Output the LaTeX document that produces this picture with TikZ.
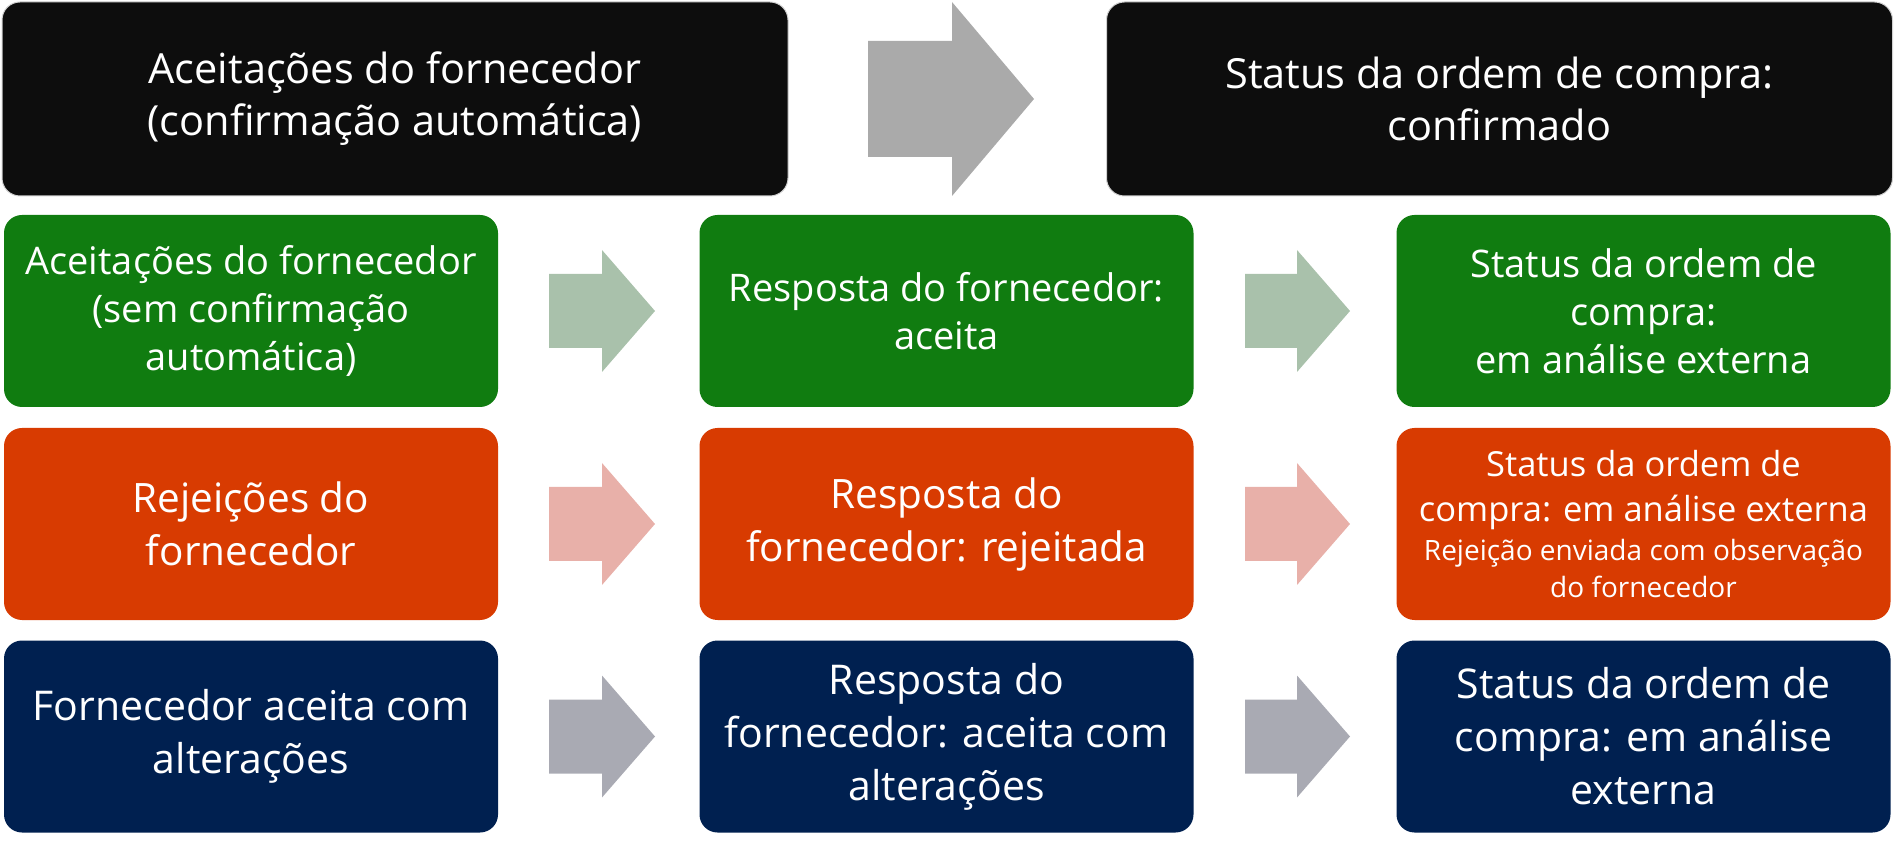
\documentclass[tikz,border=0pt]{standalone}
\usepackage{fontspec}
\setmainfont{Open Sans}
\usetikzlibrary{calc}
\definecolor{cblack}{HTML}{0D0D0D}
\definecolor{cgreen}{HTML}{107C10}
\definecolor{cred}{HTML}{D83B01}
\definecolor{cnavy}{HTML}{002050}
\definecolor{agray}{HTML}{AAAAAA}
\definecolor{agreen}{HTML}{A9C1AB}
\definecolor{ared}{HTML}{E8B0A9}
\definecolor{anavy}{HTML}{A9AAB3}
\tikzset{
  box/.style={rectangle, rounded corners=18pt, text=white, align=center, inner sep=0pt,
    minimum width=494pt, minimum height=192pt},
  topbox/.style={box, fill=cblack, draw=black!18, line width=1pt, minimum width=786pt, minimum height=194pt,
    font=\fontsize{41.5}{52}\selectfont},
  gbox/.style={box, fill=cgreen, font=\fontsize{38}{48}\selectfont},
  rbox/.style={box, fill=cred, font=\fontsize{40.5}{53}\selectfont},
  nbox/.style={box, fill=cnavy, font=\fontsize{41}{53}\selectfont},
}
% block arrow: #1 start x, #2 head start x, #3 tip x, #4 center y, #5 shaft half, #6 head half, #7 colour
\newcommand{\blockarrow}[7]{%
  \fill[#7] (#1pt,#4pt+#5pt) -- (#2pt,#4pt+#5pt) -- (#2pt,#4pt+#6pt) -- (#3pt,#4pt)
    -- (#2pt,#4pt-#6pt) -- (#2pt,#4pt-#5pt) -- (#1pt,#4pt-#5pt) -- cycle;}
\begin{document}
\begin{tikzpicture}[x=1pt,y=1pt]
\useasboundingbox (0,0) rectangle (1895,844);
% top row
\node[topbox] (t1) at (395,745) {Aceitações do fornecedor\\(confirmação automática)};
\node[topbox] (t2) at (1499.5,745) {Status da ordem de compra:\\confirmado};
\blockarrow{868}{952}{1034}{745}{58}{97}{agray}
% green row
\node[gbox] (g1) at (251,533) {Aceitações do fornecedor\\(sem confirmação\\automática)};
\node[gbox] (g2) at (946.5,533) {Resposta do fornecedor:\\aceita};
\node[gbox] (g3) at (1643.5,533) {Status da ordem de\\compra:\\em análise externa};
\blockarrow{549}{602}{655}{533}{37}{61}{agreen}
\blockarrow{1245}{1297}{1350}{533}{37}{61}{agreen}
% red row
\node[rbox, font=\fontsize{34.5}{45}\selectfont] (r3) at (1643.5,320)
  {Status da ordem de\\compra: em análise externa\\[-6pt]{\fontsize{28}{37}\selectfont Rejeição enviada com observação}\\[-7.5pt]{\fontsize{28}{37}\selectfont do fornecedor}};
\node[rbox] (r1) at (251,320) {Rejeições do\\fornecedor};
\node[rbox] (r2) at (946.5,320) {Resposta do\\fornecedor: rejeitada};
\blockarrow{549}{602}{655}{320}{37}{61}{ared}
\blockarrow{1245}{1297}{1350}{320}{37}{61}{ared}
% navy row
\node[nbox] (n1) at (251,107.5) {Fornecedor aceita com\\alterações};
\node[nbox] (n2) at (946.5,107.5) {Resposta do\\fornecedor: aceita com\\alterações};
\node[nbox] (n3) at (1643.5,107.5) {Status da ordem de\\compra: em análise\\externa};
\blockarrow{549}{602}{655}{107.5}{37}{61}{anavy}
\blockarrow{1245}{1297}{1350}{107.5}{37}{61}{anavy}
\end{tikzpicture}
\end{document}
